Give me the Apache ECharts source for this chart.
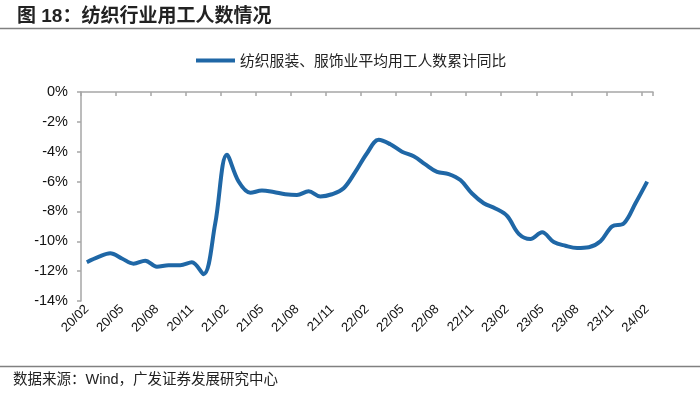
<!DOCTYPE html>
<html>
<head>
<meta charset="utf-8">
<style>
html,body{margin:0;padding:0;background:#fff;}
#c{width:700px;height:395px;}
</style>
<script src="https://cdn.jsdelivr.net/npm/echarts@6/dist/echarts.min.js"></script>
</head>
<body>
<div id="c"></div>
<script>
const titleText = '图 18：纺织行业用工人数情况';
const sourceText = '数据来源：Wind，广发证券发展研究中心';
const seriesName = '纺织服装、服饰业平均用工人数累计同比';
const categories = [
  '20/02','20/03','20/04','20/05','20/06','20/07','20/08','20/09','20/10','20/11','20/12',
  '21/01','21/02','21/03','21/04','21/05','21/06','21/07','21/08','21/09','21/10','21/11','21/12',
  '22/01','22/02','22/03','22/04','22/05','22/06','22/07','22/08','22/09','22/10','22/11','22/12',
  '23/01','23/02','23/03','23/04','23/05','23/06','23/07','23/08','23/09','23/10','23/11','23/12',
  '24/01','24/02'
];
const values = [
  -11.4,-11.05,-10.8,-11.15,-11.5,-11.3,-11.7,-11.6,-11.6,-11.4,-12.2,
  -8.8,-4.2,-6.0,-6.75,-6.6,-6.7,-6.85,-6.9,-6.65,-7.0,-6.85,-6.45,
  -5.35,-4.1,-3.2,-3.5,-4.0,-4.3,-4.85,-5.35,-5.5,-5.9,-6.8,-7.45,
  -7.8,-8.3,-9.5,-9.85,-9.4,-10.05,-10.3,-10.45,-10.4,-10.0,-9.0,-8.8,
  -7.45,-6.0
];
const yMin = -14, yMax = 0, yStep = 2;

const chart = echarts.init(document.getElementById('c'), null, {renderer:'canvas'});
const axisGray = '#a6a6a6';
const lineColor = '#1f67a6';
chart.setOption({
  animation: false,
  backgroundColor: '#fff',
  title: {
    text: titleText, left: 12, top: 2,
    textStyle: {fontFamily: 'Liberation Sans, Noto Sans CJK SC', fontSize: 19, fontWeight: 'bold', color: '#222'}
  },
  graphic: [
    {type:'line', shape:{x1:0,y1:28.5,x2:700,y2:28.5}, style:{stroke:'#808080', lineWidth:1.5}},
    {type:'line', shape:{x1:0,y1:366.5,x2:700,y2:366.5}, style:{stroke:'#808080', lineWidth:1.5}},
    {type:'text', left: 13, top: 373, style:{text: sourceText, fontFamily:'Liberation Sans, Noto Sans CJK SC', fontSize: 14.5, fill:'#222'}}
  ],
  legend: {
    top: 48, left: 191,
    itemWidth: 39, itemHeight: 10, itemGap: 4,
    textStyle: {fontFamily: 'Noto Sans CJK SC', fontSize: 14.8, color: '#222'},
    data: [{name: seriesName, icon: 'path://M0,0 L39,0 L39,4 L0,4 Z'}]
  },
  grid: {left: 81, right: 47, top: 92, bottom: 94, containLabel: false},
  xAxis: [
    {
      type: 'category', data: categories, position: 'bottom', boundaryGap: true,
      axisLine: {show: false, onZero: false}, axisTick: {show: false},
      axisLabel: {interval: 2, rotate: 45, margin: 6, fontFamily: 'Liberation Sans', fontSize: 13, color: '#111'}
    },
    {
      type: 'category', data: categories, position: 'top', boundaryGap: true,
      axisLine: {show: true, onZero: false, lineStyle: {color: axisGray, width: 1.5}},
      axisTick: {show: true, inside: true, interval: 2, length: 4, lineStyle: {color: axisGray, width: 1.5}},
      axisLabel: {show: false}
    }
  ],
  yAxis: {
    type: 'value', min: yMin, max: yMax, interval: yStep,
    axisLine: {show: true, lineStyle: {color: axisGray, width: 1.5}},
    axisTick: {show: true, length: 4, lineStyle: {color: axisGray, width: 1.5}},
    splitLine: {show: false},
    axisLabel: {formatter: '{value}%', margin: 13, fontFamily: 'Liberation Sans', fontSize: 14.5, color: '#111'}
  },
  series: [{
    name: seriesName, type: 'line', data: values, xAxisIndex: 0,
    smooth: 0.35, symbol: 'none',
    lineStyle: {color: lineColor, width: 4},
    itemStyle: {color: lineColor}
  }]
});
</script>
</body>
</html>
